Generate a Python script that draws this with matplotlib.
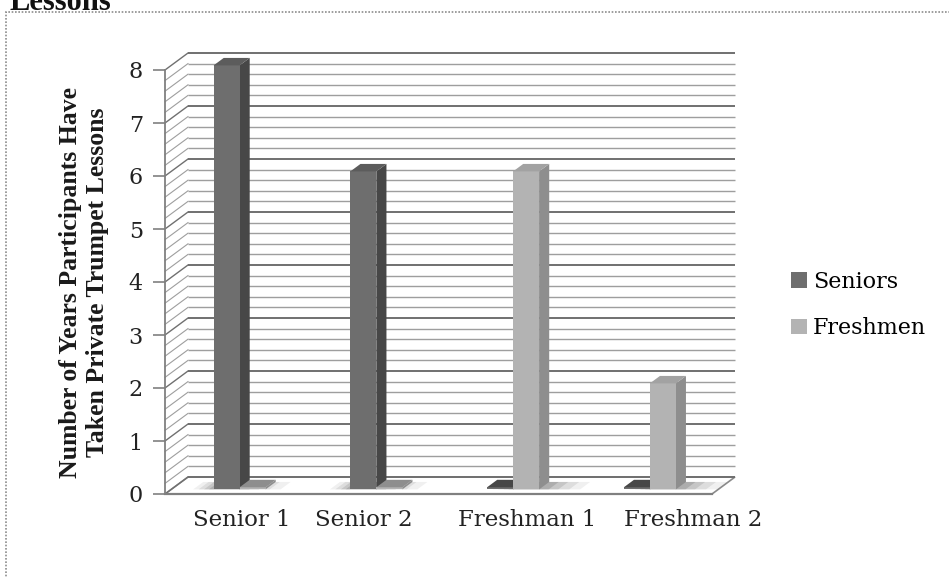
import matplotlib
matplotlib.use("Agg")
import matplotlib.pyplot as plt
from matplotlib.patches import Polygon, Rectangle, Patch
import matplotlib.transforms as mtransforms

# Data
categories = ["Senior 1", "Senior 2", "Freshman 1", "Freshman 2"]
series_names = ["Seniors", "Freshmen"]
seniors = [8, 6, 0, 0]
freshmen = [0, 0, 6, 2]
y_ticks = [0, 1, 2, 3, 4, 5, 6, 7, 8]
y_label = "Number of Years Participants Have\nTaken Private Trumpet Lessons"

W, H, DPI = 949, 577, 100
fig = plt.figure(figsize=(W / DPI, H / DPI), dpi=DPI)
fig.patch.set_facecolor("white")

SERIF = ["DejaVu Serif"]
SERIF_BOLD = ["Liberation Serif"]

# Front plane of the 3-D box
left_px, right_px, bot_px, top_px = 165, 712, 494, 70
ax = fig.add_axes([left_px / W, (H - bot_px) / H,
                   (right_px - left_px) / W, (bot_px - top_px) / H])
ax.set_xlim(0, len(categories))
ax.set_ylim(0, 8)
ax.set_facecolor("none")

px_per_x = (right_px - left_px) / len(categories)
px_per_y = (bot_px - top_px) / 8.0
DX = 23 / px_per_x          # depth offset (x) of the back wall
DY = 17 / px_per_y          # depth offset (y) of the back wall

minor_c, major_c = "#9e9e9e", "#707070"

# Floor
nx = len(categories)
floor = Polygon([(0, 0), (nx, 0), (nx + DX, DY), (DX, DY)], closed=True,
                facecolor="white", edgecolor="#8a8a8a", lw=1.2,
                clip_on=False, zorder=1)
ax.add_patch(floor)

# Back wall and side wall gridlines
steps = [i * 0.2 for i in range(41)]
for k, v in enumerate(steps):
    major = (k % 5 == 0)
    c = major_c if major else minor_c
    lw = 1.4 if major else 1.0
    ax.plot([DX, nx + DX], [v + DY, v + DY], color=c, lw=lw,
            clip_on=False, zorder=2, solid_capstyle="butt")
    ax.plot([0, DX], [v, v + DY], color=c, lw=0.8 if not major else 1.0,
            clip_on=False, zorder=2)

# Bars
bar_w = 26 / px_per_x
d_front, d_back = 0.27, 0.71
colors = {
    0: dict(front="#6e6e6e", side="#474747", top="#5c5c5c"),
    1: dict(front="#b3b3b3", side="#8e8e8e", top="#a2a2a2"),
}


def draw_bar(xl, v, pal, z):
    xr = xl + bar_w
    fx, fy = d_front * DX, d_front * DY
    bx, by = d_back * DX, d_back * DY
    # soft shadow on the floor
    if v > 0:
        for grow, a in [(0.30, 0.06), (0.22, 0.08), (0.14, 0.10), (0.07, 0.12)]:
            sh = Polygon([(xl - grow * 0.5 + fx, fy), (xr + grow + fx, fy),
                          (xr + grow + bx, by), (xl - grow * 0.5 + bx, by)],
                         closed=True, facecolor="black", edgecolor="none",
                         alpha=a, clip_on=False, zorder=3)
            ax.add_patch(sh)
    top_f, top_b = v + fy, v + by
    if v <= 0:
        top_f, top_b = fy + 0.04, by + 0.04
    side = Polygon([(xr + fx, fy), (xr + bx, by), (xr + bx, top_b), (xr + fx, top_f)],
                   closed=True, facecolor=pal["side"], edgecolor="none",
                   clip_on=False, zorder=z)
    front = Polygon([(xl + fx, fy), (xr + fx, fy), (xr + fx, top_f), (xl + fx, top_f)],
                    closed=True, facecolor=pal["front"], edgecolor="none",
                    clip_on=False, zorder=z)
    top = Polygon([(xl + fx, top_f), (xr + fx, top_f), (xr + bx, top_b), (xl + bx, top_b)],
                  closed=True, facecolor=pal["top"] if v > 0 else pal["side"],
                  edgecolor="none", clip_on=False, zorder=z)
    for p in (side, front, top):
        ax.add_patch(p)


for i in range(nx):
    for s, vals in enumerate([seniors, freshmen]):
        xl = i + 0.5 - bar_w + s * bar_w
        draw_bar(xl, vals[i], colors[s], 5 + i)

# Axes styling: front vertical axis with outward ticks
for sp in ["top", "right", "bottom"]:
    ax.spines[sp].set_visible(False)
ax.spines["left"].set_color("#808080")
ax.spines["left"].set_linewidth(1.3)
ax.spines["left"].set_zorder(4)
ax.plot([0, nx], [0, 0], color="#808080", lw=1.6, clip_on=False, zorder=4)

ax.set_yticks(y_ticks)
ax.set_yticklabels([str(t) for t in y_ticks], fontsize=16, family=SERIF,
                   color="#222222")
ax.tick_params(axis="y", direction="out", length=9, width=1.2, color="#808080",
               pad=7)

ax.set_xticks([i + 0.5 for i in range(nx)])
ax.set_xticklabels(categories, fontsize=16.5, family=SERIF, color="#222222")
ax.tick_params(axis="x", length=0, pad=11)
label_shift_px = [8, -6, 20, 50]
for lab, dx in zip(ax.get_xticklabels(), label_shift_px):
    lab.set_transform(lab.get_transform() +
                      mtransforms.ScaledTranslation(dx / DPI, 0, fig.dpi_scale_trans))

ax.set_ylabel(y_label, fontsize=18.5, family=SERIF_BOLD, fontweight="bold",
              color="#1a1a1a", labelpad=14, linespacing=1.25)

# Legend
handles = [Patch(facecolor=colors[0]["front"], edgecolor="none"),
           Patch(facecolor=colors[1]["front"], edgecolor="none")]
fig.legend(handles, series_names, loc="center left",
           bbox_to_anchor=(771 / W, 1 - 305 / H), frameon=False,
           prop={"family": SERIF, "size": 16}, handlelength=0.7,
           handleheight=0.7, handletextpad=0.3, labelspacing=1.1)

# Chart frame (dotted) and title remnant above it
frame = Rectangle((6 / W, -0.2), 1.2, 1.2 - 12 / H, transform=fig.transFigure,
                  fill=False, edgecolor="#8c8c8c", lw=1.2, linestyle=(0, (1, 1)))
fig.add_artist(frame)
fig.text(10 / W, 1 - 10 / H, "Lessons", fontsize=22, fontweight="bold",
         family=["Liberation Serif"], va="baseline", ha="left", color="#111111")

fig.savefig("out.png", dpi=DPI, facecolor="white")
